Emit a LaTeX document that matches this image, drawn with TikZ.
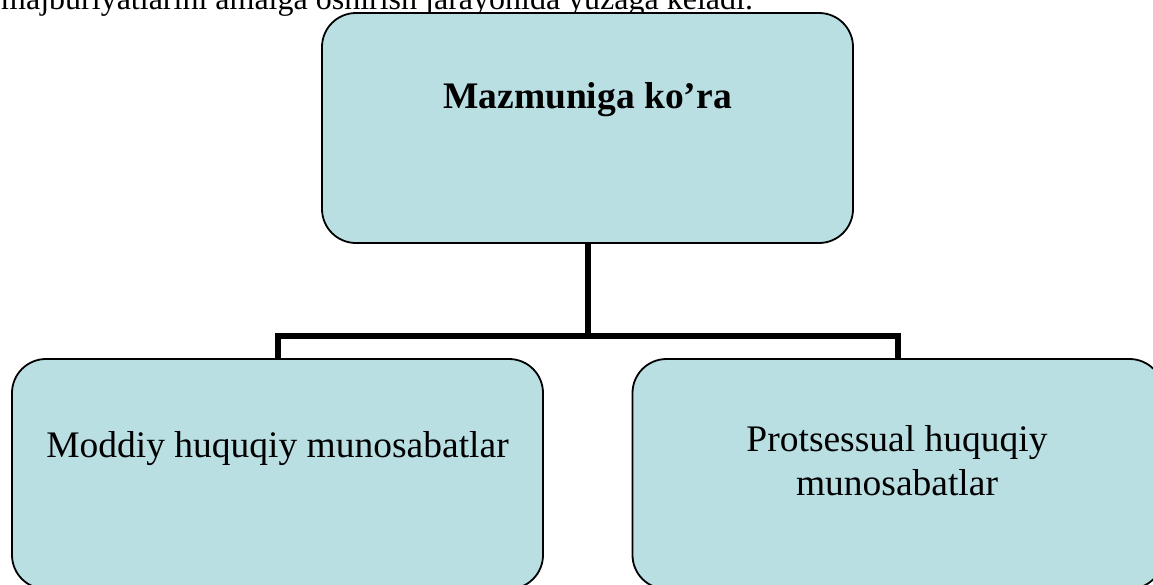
\documentclass[tikz,border=0pt]{standalone}
\usepackage{fontspec}
\setmainfont{Liberation Serif}
\definecolor{boxfill}{RGB}{185,223,227}
\begin{document}
\begin{tikzpicture}[x=1pt,y=-1pt,
  box/.style={draw=black, line width=1.8pt, fill=boxfill, rounded corners=34pt,
    minimum width=531pt, minimum height=230pt, inner sep=0pt, outer sep=0pt},
  conn/.style={draw=black, line width=6pt, line join=miter},
  lbl/.style={inner sep=0pt, outer sep=0pt, font=\fontsize{37.5}{44}\selectfont}]
\useasboundingbox (0,0) rectangle (1153,584);
% partially visible line of text above the diagram
\node[anchor=base west, inner sep=0pt, font=\fontsize{32}{38}\selectfont] (intro) at (1,9)
  {majburiyatlarini amalga oshirish jarayonida yuzaga keladi.};
% connectors
\coordinate (j) at (588,335.5);
\coordinate (tb) at (588,243);
\coordinate (lt) at (278,359);
\coordinate (rt) at (898,359);
\draw[conn] (tb) -- (j);
\draw[conn] (lt) |- (j) -| (rt);
% boxes
\node[box] (top) at (587.5,128) {};
\node[box] (left) at (277.5,474) {};
\node[box] (right) at (898,474) {};
% labels
\node[lbl, anchor=base] (ttop) at (587.5,108) {\bfseries Mazmuniga ko’ra};
\node[lbl, anchor=base] (tleft) at (277.5,457) {Moddiy huquqiy munosabatlar};
\node[lbl, anchor=base] (tright1) at (897,451) {Protsessual huquqiy};
\node[lbl, anchor=base] (tright2) at (897,495) {munosabatlar};
\end{tikzpicture}
\end{document}
